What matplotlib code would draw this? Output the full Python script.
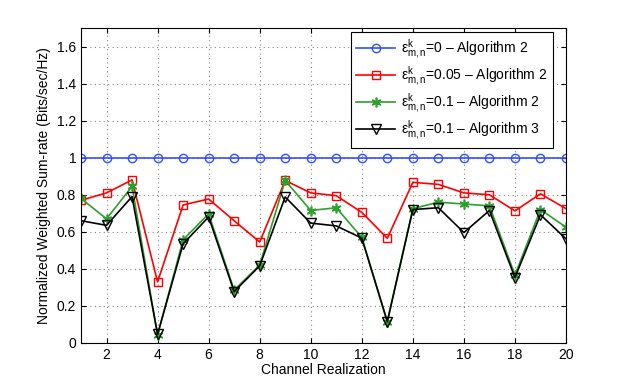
import numpy as np
import matplotlib.pyplot as plt

plt.rcParams['font.family'] = ['Liberation Sans', 'DejaVu Sans']
plt.rcParams['mathtext.fontset'] = 'custom'
plt.rcParams['mathtext.rm'] = 'Liberation Sans'
plt.rcParams['mathtext.it'] = 'Liberation Sans'

# data
realization = np.arange(1, 21)
eps0_alg2 = [1.0] * 20
eps005_alg2 = [0.77, 0.81, 0.88, 0.33, 0.745, 0.777, 0.66, 0.545, 0.877, 0.81,
               0.795, 0.705, 0.565, 0.867, 0.856, 0.81, 0.80, 0.713, 0.805, 0.725]
eps01_alg2 = [0.78, 0.67, 0.845, 0.043, 0.557, 0.697, 0.286, 0.42, 0.877, 0.715,
              0.73, 0.57, 0.115, 0.725, 0.76, 0.75, 0.74, 0.367, 0.72, 0.625]
eps01_alg3 = [0.66, 0.635, 0.79, 0.047, 0.535, 0.68, 0.277, 0.416, 0.788, 0.647,
              0.632, 0.566, 0.115, 0.72, 0.73, 0.596, 0.715, 0.353, 0.692, 0.562]

fig = plt.figure(figsize=(6.23, 3.87), dpi=100)
ax = fig.add_axes([0.13, 0.1137, 0.7785, 0.814])

eps = r'$\varepsilon^{k}_{m,n}$'
ax.plot(realization, eps0_alg2, '-o', color='#3050ff', mfc='none', ms=6, lw=1.2,
        label=eps + '=0 – Algorithm 2')
ax.plot(realization, eps005_alg2, '-s', color='red', mfc='none', ms=6, lw=1.2,
        label=eps + '=0.05 – Algorithm 2')
ax.plot(realization, eps01_alg2, '-', marker=(6, 2, 0), color='#2ca02c', ms=7,
        mew=1.2, lw=1.2, label=eps + '=0.1 – Algorithm 2')
ax.plot(realization, eps01_alg3, '-v', color='black', mfc='none', ms=7, lw=1.2,
        label=eps + '=0.1 – Algorithm 3')

ax.set_xlim(1, 20)
ax.set_ylim(0, 1.7)
ax.set_xticks(np.arange(2, 21, 2))
ax.set_yticks(np.arange(0, 1.61, 0.2))
ax.set_yticklabels(['0', '0.2', '0.4', '0.6', '0.8', '1', '1.2', '1.4', '1.6'])
ax.grid(True, linestyle=(0, (1, 3)), color='#888888', linewidth=0.8)
ax.tick_params(direction='in', top=True, right=True, labelsize=10)
ax.set_xlabel('Channel Realization', fontsize=10, labelpad=1)
ax.set_ylabel('Normalized Weighted Sum-rate (Bits/sec/Hz)', fontsize=10)

leg = ax.legend(loc='upper right', bbox_to_anchor=(0.973, 0.987), fontsize=10,
                fancybox=False, framealpha=1, edgecolor='black',
                borderaxespad=0, handlelength=2.8, handletextpad=0.4,
                labelspacing=0.25, borderpad=0.4)
leg.get_frame().set_linewidth(0.8)

fig.savefig('out.png', dpi=100)
